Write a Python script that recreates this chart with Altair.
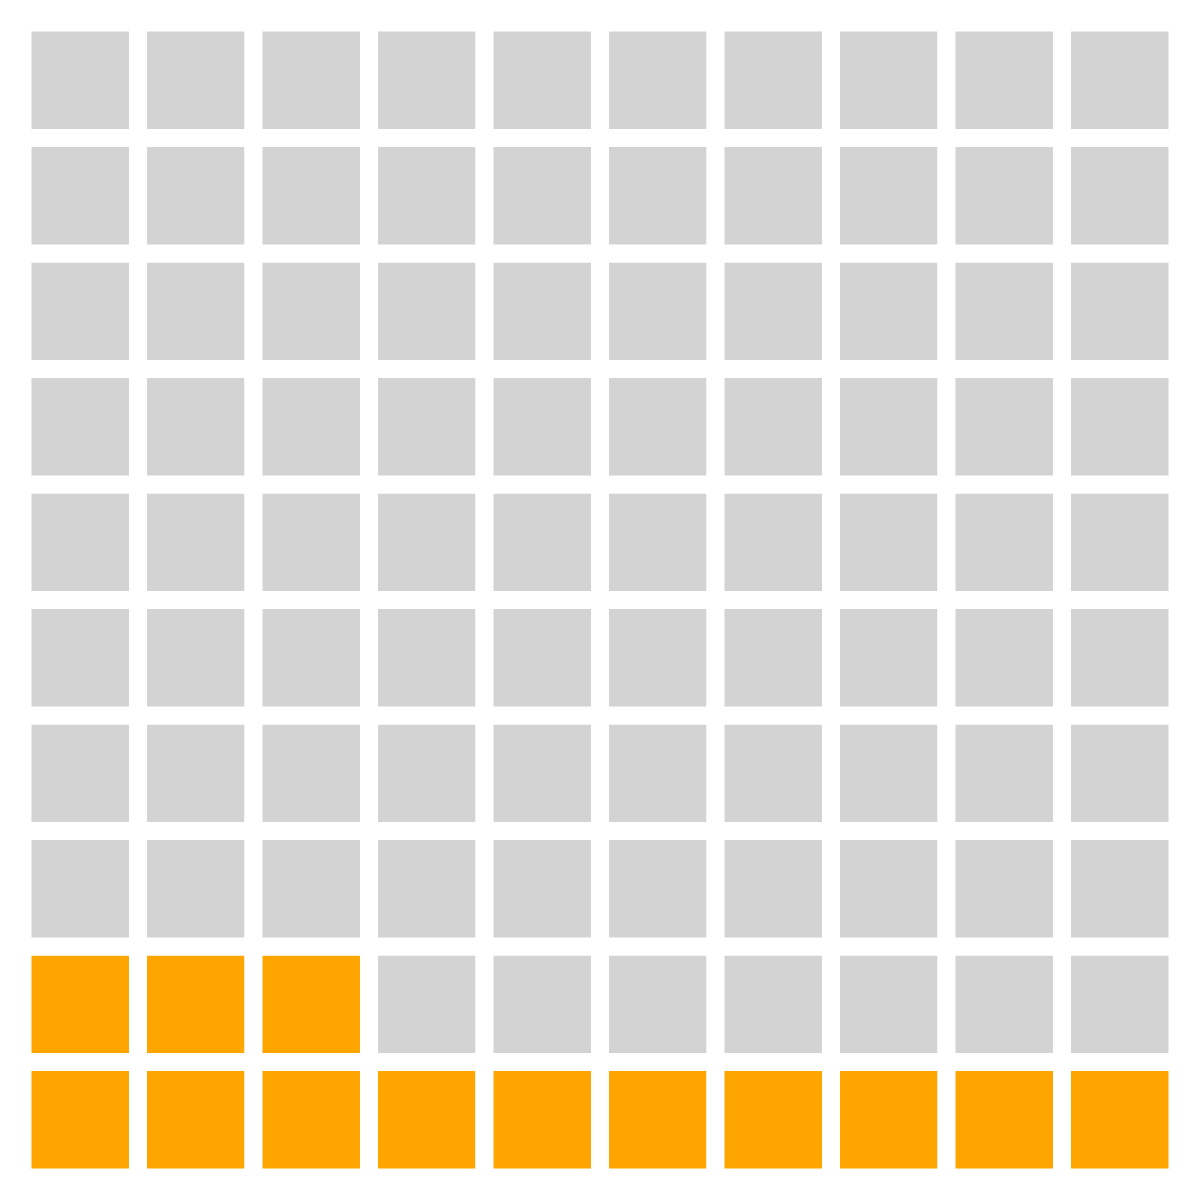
import altair as alt
import pandas as pd

# Waffle chart data
categories = ["Filled", "Remaining"]
counts = [13, 87]
colors = ["#FFA500", "#D3D3D3"]
n_cols = 10
n_rows = 10

rows = []
idx = 0
for cat, cnt in zip(categories, counts):
    for _ in range(cnt):
        rows.append({"col": idx % n_cols, "row": idx // n_cols, "category": cat})
        idx += 1
df = pd.DataFrame(rows)

chart = alt.Chart(df).mark_rect(stroke="white", strokeWidth=18).encode(
    x=alt.X("col:O", axis=None, scale=alt.Scale(paddingInner=0, paddingOuter=0)),
    y=alt.Y("row:O", axis=None, sort="descending", scale=alt.Scale(paddingInner=0, paddingOuter=0)),
    color=alt.Color("category:N", scale=alt.Scale(domain=categories, range=colors), legend=None),
).properties(
    width=1155, height=1155,
    padding={"left": 13.5, "top": 13.5, "right": 0, "bottom": 0},
    background="white"
).configure_view(strokeWidth=0)

chart.save("out.html", embed_options={"renderer": "svg", "actions": False})
